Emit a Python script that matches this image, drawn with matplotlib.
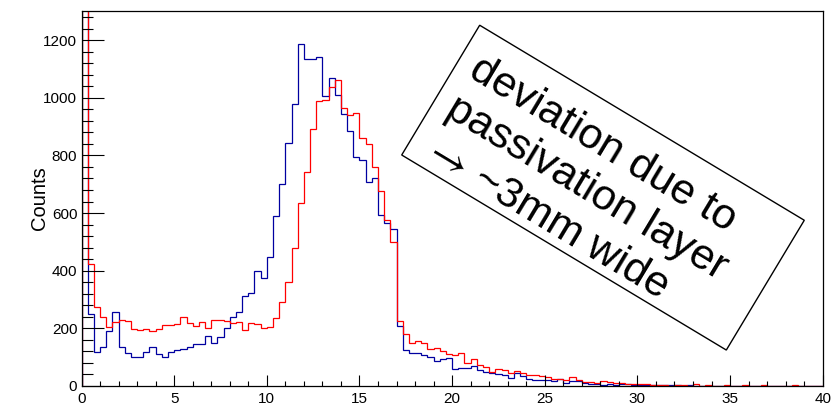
import numpy as np
from matplotlib import pyplot as plt
from matplotlib.patches import Rectangle
from matplotlib.transforms import IdentityTransform

plt.rcParams['font.family'] = ['Liberation Sans', 'DejaVu Sans']
plt.rcParams['mathtext.fontset'] = 'stixsans'

# 120 bins of 1/3 from 0 to 40
edges = np.linspace(0, 40, 121)

blue_counts = [3000, 250, 119, 136, 192, 257, 136, 113, 102, 99,
               118, 134, 111, 102, 119, 125, 129, 134, 145, 147,
               173, 148, 169, 200, 238, 258, 312, 324, 400, 373,
               446, 590, 700, 842, 978, 1186, 1136, 1136, 1140, 1006,
               1067, 1008, 943, 884, 795, 784, 709, 720, 593, 566,
               543, 208, 125, 116, 113, 108, 99, 88, 95, 96,
               58, 64, 64, 69, 55, 49, 44, 42, 37, 27,
               44, 35, 23, 21, 21, 21, 16, 23, 12, 17,
               17, 9, 6, 6, 2, 6, 2, 7, 7, 5,
               3, 5, 5, 3, 3, 2, 2, 1, 2, 1,
               1, 1, 0, 1, 1, 0, 1, 0, 0, 1,
               0, 0, 1, 0, 0, 1, 0, 0, 0, 0]

red_counts = [3000, 423, 275, 240, 203, 222, 230, 227, 199, 194,
              198, 191, 199, 212, 213, 215, 240, 217, 207, 221,
              200, 229, 229, 226, 220, 222, 194, 217, 214, 202,
              206, 235, 292, 360, 480, 636, 741, 890, 990, 992,
              1038, 1061, 966, 940, 948, 861, 839, 761, 677, 576,
              501, 225, 180, 148, 157, 150, 129, 133, 123, 111,
              106, 113, 79, 92, 73, 65, 50, 60, 55, 46,
              53, 46, 38, 37, 35, 32, 25, 25, 21, 30,
              21, 15, 15, 12, 18, 15, 9, 9, 7, 7,
              6, 6, 5, 5, 2, 1, 2, 2, 1, 6,
              1, 2, 1, 1, 2, 1, 1, 2, 1, 1,
              2, 1, 1, 1, 1, 3, 1, 1, 1, 1]

box_text = "deviation due to\npassivation layer\n$\\rightarrow\\,$~3mm wide"

fig = plt.figure(figsize=(8.37, 4.07), dpi=100)
ax = fig.add_axes([0.0974, 0.0516, 0.8855, 0.9221])

ax.stairs(blue_counts, edges, color='#0000a0', linewidth=0.9)
ax.stairs(red_counts, edges, color='#ff0000', linewidth=0.9)

ax.set_xlim(0, 40)
ax.set_ylim(0, 1302)
ax.set_xticks(np.arange(0, 41, 5))
ax.set_xticks(np.arange(0, 41, 1), minor=True)
ax.set_yticks(np.arange(0, 1201, 200))
ax.set_yticks(np.arange(0, 1301, 40), minor=True)
ax.tick_params(axis='both', which='both', direction='in', top=False, right=False,
               labelsize=11, width=0.8, color='black')
ax.tick_params(axis='x', which='major', length=8, pad=4)
ax.tick_params(axis='x', which='minor', length=3.8)
ax.tick_params(axis='y', which='major', length=16, pad=3)
ax.tick_params(axis='y', which='minor', length=8)
for s in ax.spines.values():
    s.set_linewidth(0.9)

ax.set_ylabel('Counts', fontsize=14.5)
ax.yaxis.set_label_coords(-0.044, 0.5)

# rotated note box (pixel coords)
rect = Rectangle((401.7, 252), 378.7, 151.4, angle=-31, rotation_point='xy',
                 fill=False, edgecolor='black', linewidth=1.0,
                 transform=IdentityTransform())
fig.add_artist(rect)
fig.text(0.5773, 0.8784, box_text, rotation=-31, rotation_mode='anchor',
         ha='left', va='top', fontsize=31)

fig.savefig('out.png', dpi=100)
